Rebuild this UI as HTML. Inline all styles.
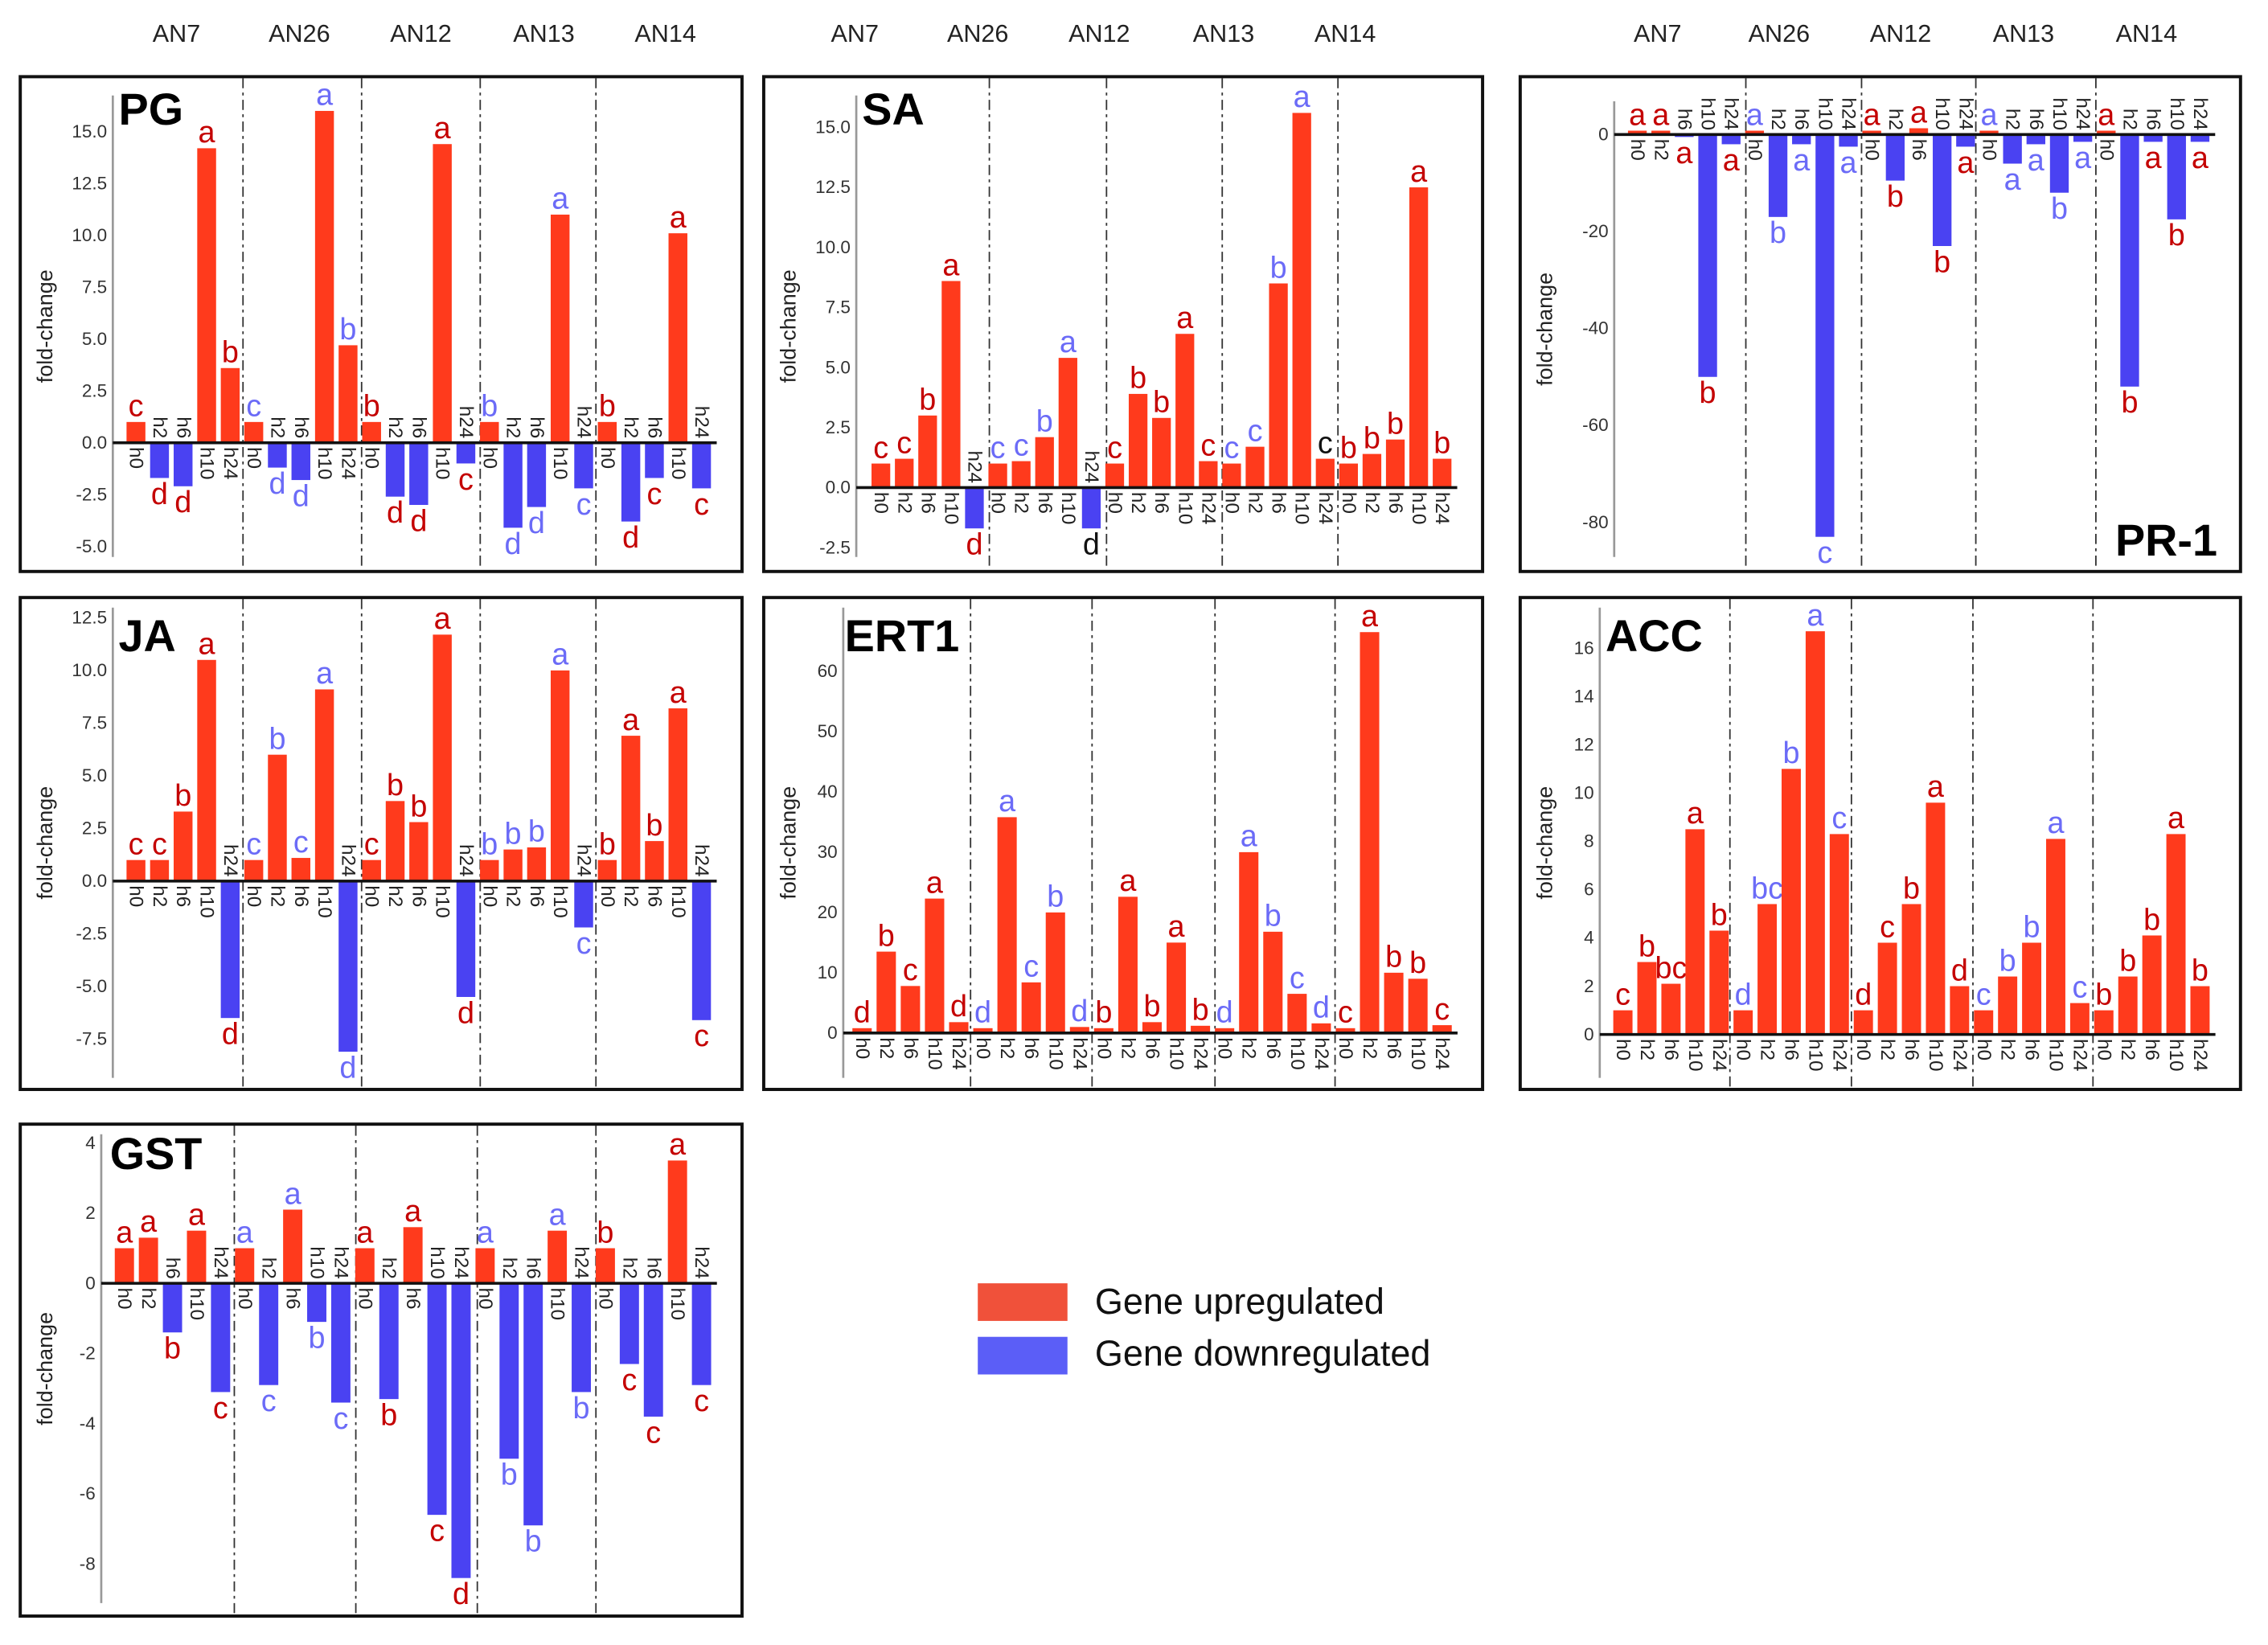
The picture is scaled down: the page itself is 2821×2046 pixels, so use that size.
<!DOCTYPE html>
<html><head><meta charset="utf-8"><style>
html,body{margin:0;padding:0;background:#fff;}
svg{display:block;font-family:"Liberation Sans",Arial,sans-serif;}
</style></head><body>
<svg id="fig" width="2821" height="2046" viewBox="0 0 1568 1137" preserveAspectRatio="none" xmlns="http://www.w3.org/2000/svg"></svg>
<script>
const groups = ["AN7","AN26","AN12","AN13","AN14"];
const hours = ["h0","h2","h6","h10","h24"];

const pgValues = [1,-1.7,-2.1,14.2,3.6, 1,-1.2,-1.8,16,4.7, 1,-2.6,-3,14.4,-1, 1,-4.1,-3.1,11,-2.2, 1,-3.8,-1.7,10.1,-2.2];
const pgLetters = ["c","d","d","a","b","c","d","d","a","b","b","d","d","a","c","b","d","d","a","c","b","d","c","a","c"];
const pgTicks = [15,12.5,10,7.5,5,2.5,0,-2.5,-5];

const saValues = [1,1.2,3,8.6,-1.7, 1,1.1,2.1,5.4,-1.7, 1,3.9,2.9,6.4,1.1, 1,1.7,8.5,15.6,1.2, 1,1.4,2,12.5,1.2];
const saLetters = ["c","c","b","a","d","c","c","b","a","d","c","b","b","a","c","c","c","b","a","c","b","b","b","a","b"];
const saTicks = [15,12.5,10,7.5,5,2.5,0,-2.5];

const prValues = [0.8,0.8,-0.5,-50,-2, 0.8,-17,-2,-83,-2.5, 0.8,-9.5,1.3,-23,-2.5, 0.8,-6,-2,-12,-1.5, 0.8,-52,-1.5,-17.5,-1.5];
const prLetters = ["a","a","a","b","a","a","b","a","c","a","a","b","a","b","a","a","a","a","b","a","a","b","a","b","a"];
const prTicks = [0,-20,-40,-60,-80];

const jaValues = [1,1,3.3,10.5,-6.5, 1,6,1.1,9.1,-8.1, 1,3.8,2.8,11.7,-5.5, 1,1.5,1.6,10,-2.2, 1,6.9,1.9,8.2,-6.6];
const jaLetters = ["c","c","b","a","d","c","b","c","a","d","c","b","b","a","d","b","b","b","a","c","b","a","b","a","c"];
const jaTicks = [12.5,10,7.5,5,2.5,0,-2.5,-5,-7.5];

const ertValues = [0.8,13.5,7.8,22.3,1.8, 0.8,35.8,8.4,20,1, 0.8,22.6,1.8,15,1.2, 0.8,30,16.8,6.5,1.6, 0.8,66.5,10,9,1.3];
const ertLetters = ["d","b","c","a","d","d","a","c","b","d","b","a","b","a","b","d","a","b","c","d","c","a","b","b","c"];
const ertTicks = [0,10,20,30,40,50,60];

const accValues = [1,3,2.1,8.5,4.3, 1,5.4,11,16.7,8.3, 1,3.8,5.4,9.6,2, 1,2.4,3.8,8.1,1.3, 1,2.4,4.1,8.3,2];
const accLetters = ["c","b","bc","a","b","d","bc","b","a","c","d","c","b","a","d","c","b","b","a","c","b","b","b","a","b"];
const accTicks = [0,2,4,6,8,10,12,14,16];

const gstValues = [1,1.3,-1.4,1.5,-3.1, 1,-2.9,2.1,-1.1,-3.4, 1,-3.3,1.6,-6.6,-8.4, 1,-5,-6.9,1.5,-3.1, 1,-2.3,-3.8,3.5,-2.9];
const gstLetters = ["a","a","b","a","c","a","c","a","b","c","a","b","a","c","d","a","b","b","a","b","b","c","c","a","c"];
const gstTicks = [4,2,0,-2,-4,-6,-8];

const RED="#ff3a1c", BLUE="#4a42f2", LRED="#c40000", LBLUE="#6b6bf7";
const svg=document.getElementById('fig');
const NS="http://www.w3.org/2000/svg";
function mk(tag,attrs,parent){const e=document.createElementNS(NS,tag);for(const k in attrs)e.setAttribute(k,attrs[k]);(parent||svg).appendChild(e);return e;}

const panels=[
 {key:"pg",title:"PG",vals:pgValues,lets:pgLetters,ticks:pgTicks,box:[14,53,513,395],ax:78,y0:306,refV:15,refY:91,yTop:66,yBot:385,x0:94,x1:485,div:[168,250,332,412],tx:82,ty:86,fmt:1,black:[],glx:[122,207,291,376,460]},
 {key:"sa",title:"SA",vals:saValues,lets:saLetters,ticks:saTicks,box:[528,53,1025,395],ax:592,y0:337,refV:15,refY:88,yTop:66,yBot:385,x0:609,x1:997,div:[684,765,845,925],tx:596,ty:86,fmt:1,black:[9,19],glx:[591,676,760,846,930]},
 {key:"pr",title:"PR-1",vals:prValues,lets:prLetters,ticks:prTicks,box:[1051,53,1549,395],ax:1116,y0:93,refV:-80,refY:361,yTop:70,yBot:385,x0:1132,x1:1521,div:[1207,1287,1366,1449],tx:1533,ty:384,anchorEnd:true,fmt:0,black:[],glx:[1146,1230,1314,1399,1484]},
 {key:"ja",title:"JA",vals:jaValues,lets:jaLetters,ticks:jaTicks,box:[14,413,513,753],ax:78,y0:609,refV:12.5,refY:427,yTop:420,yBot:745,x0:94,x1:485,div:[168,250,332,412],tx:82,ty:450,fmt:1,black:[]},
 {key:"ert",title:"ERT1",vals:ertValues,lets:ertLetters,ticks:ertTicks,box:[528,413,1025,753],ax:583,y0:714,refV:60,refY:464,yTop:420,yBot:745,x0:596,x1:997,div:[671,755,840,923],tx:584,ty:450,fmt:0,black:[]},
 {key:"acc",title:"ACC",vals:accValues,lets:accLetters,ticks:accTicks,box:[1051,413,1549,753],ax:1106,y0:715,refV:16,refY:448,yTop:420,yBot:745,x0:1122,x1:1521,div:[1196,1280,1364,1447],tx:1110,ty:450,fmt:0,black:[]},
 {key:"gst",title:"GST",vals:gstValues,lets:gstLetters,ticks:gstTicks,box:[14,777,513,1117],ax:70,y0:887,refV:4,refY:790,yTop:784,yBot:1108,x0:86,x1:485,div:[162,246,330,412],tx:76,ty:808,fmt:0,black:[]}
];

panels.forEach(p=>{
  const g=mk('g',{});
  
  
  const [bx0,by0,bx1,by1]=p.box;
  const box=mk('rect',{x:bx0,y:by0,width:bx1-bx0,height:by1-by0,fill:"none",stroke:"#111","stroke-width":2.2},g);
  
  
  const scale=(p.refY-p.y0)/p.refV;
  const Y=v=>p.y0+v*scale;
  const step=(p.x1-p.x0)/24;
  const X=i=>p.x0+i*step;
  const bw=step*0.8;
  p.div.forEach((dx,i)=>{
    const l=mk('line',{x1:dx,y1:by0+1,x2:dx,y2:by1-1,stroke:"#333","stroke-width":1,"stroke-dasharray":"7,3,2,3"},g);
    
    
  });
  const ya=mk('line',{x1:p.ax,y1:p.yTop,x2:p.ax,y2:p.yBot,stroke:"#999","stroke-width":1.5},g);
  
  
  p.ticks.forEach(t=>{
    const tt=mk('text',{x:p.ax-4,y:Y(t)+4,"font-size":12.5,"text-anchor":"end",fill:"#333"},g);
    tt.textContent=p.fmt?t.toFixed(1):String(t);
    
    
  });
  const ymid=(p.yTop+p.yBot)/2;
  const yt=mk('text',{x:0,y:0,"font-size":15,"text-anchor":"middle",fill:"#222",transform:`translate(${bx0+22},${ymid}) rotate(-90)`},g);
  yt.textContent="fold-change";
  
  
  p.vals.forEach((v,i)=>{
    const gi=Math.floor(i/5);
    const x=X(i);
    const y=Y(v);
    const r=mk('rect',{x:x-bw/2,y:Math.min(y,p.y0),width:bw,height:Math.max(Math.abs(y-p.y0),1),fill:v>=0?RED:BLUE},g);
    
    
    const hy=v>=0?p.y0+3:p.y0-3;
    const ht=mk('text',{x:x,y:hy,"font-size":13.5,fill:"#222","text-anchor":v>=0?"start":"end","dominant-baseline":"central",transform:`rotate(90,${x},${hy})`},g);
    ht.textContent=hours[i%5];
    
    
    let col=gi%2===0?LRED:LBLUE;
    if(p.black.indexOf(i)>=0)col="#111";
    const ly=v>=0?y-4:y+18;
    const lt=mk('text',{x:x,y:ly,"font-size":21,"text-anchor":"middle",fill:col},g);
    lt.textContent=p.lets[i];
    
    
  });
  const zl=mk('line',{x1:p.ax,y1:p.y0,x2:p.x1+bw/2+4,y2:p.y0,stroke:"#111","stroke-width":2},g);
  
  
  const ti=mk('text',{x:p.tx,y:p.ty,"font-size":31,"font-weight":"bold",fill:"#000","text-anchor":p.anchorEnd?"end":"start"},g);
  ti.textContent=p.title;
  
  
  if(p.glx){
    groups.forEach((gn,gi)=>{
      const t=mk('text',{x:p.glx[gi],y:29,"font-size":17,"text-anchor":"middle",fill:"#222"},g);
      t.textContent=gn;
      
      
    });
  }
});

const lg=mk('g',{});


const l1=mk('rect',{x:676,y:887,width:62,height:26,fill:"#f0513a"},lg);


const l2=mk('rect',{x:676,y:924,width:62,height:26,fill:"#5b5ef7"},lg);


const t1=mk('text',{x:757,y:908,"font-size":25,fill:"#111"},lg);
t1.textContent="Gene upregulated";


const t2=mk('text',{x:757,y:944,"font-size":25,fill:"#111"},lg);
t2.textContent="Gene downregulated";


</script>
</body></html>
